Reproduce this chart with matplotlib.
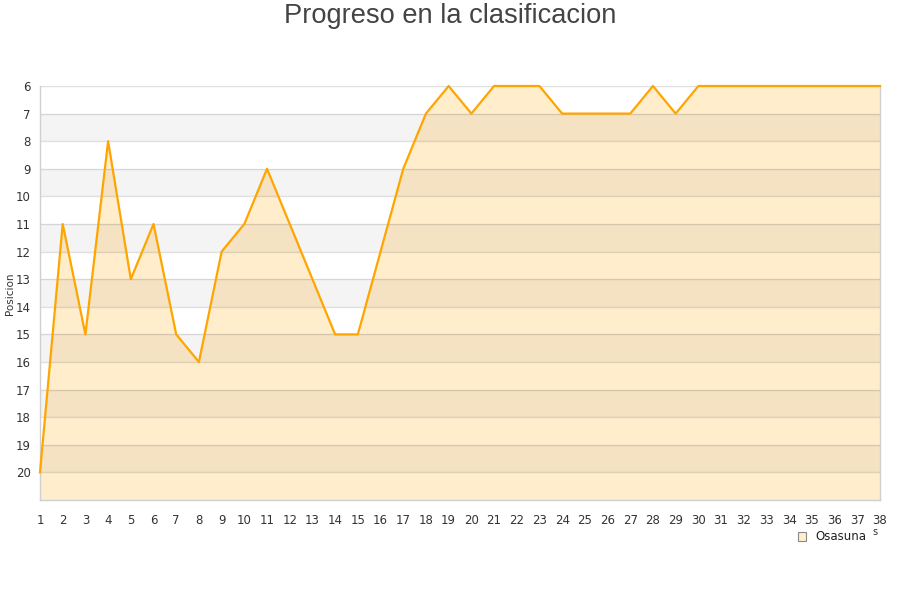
import matplotlib
matplotlib.use("Agg")
import matplotlib.pyplot as plt
from matplotlib.patches import Patch

jornadas = list(range(1, 39))
posiciones = [20, 11, 15, 8, 13, 11, 15, 16, 12, 11, 9, 11, 13, 15, 15, 12, 9, 7, 6, 7,
              6, 6, 6, 7, 7, 7, 7, 6, 7, 6, 6, 6, 6, 6, 6, 6, 6, 6]
equipo = "Osasuna"
titulo = "Progreso en la clasificacion"
ylabel = "Posicion"
yticks = list(range(6, 21))

plt.rcParams['font.family'] = ['DejaVu Sans']
fig = plt.figure(figsize=(9, 6), dpi=100)
ax = fig.add_axes([40/900, 1-500/600, 840/900, 414/600])

ax.set_xlim(1, 38)
ax.set_ylim(21, 6)

# fill below the line
ax.fill_between(jornadas, posiciones, 21, color='#FFEDCC', zorder=1, linewidth=0)
# alternating stripes
for y0 in range(7, 20, 2):
    ax.axhspan(y0, y0 + 1, color='black', alpha=0.045, zorder=2, linewidth=0)
# grid lines
for y in range(6, 21):
    ax.axhline(y, color='#000000', alpha=0.12, linewidth=1, zorder=2.5)

ax.plot(jornadas, posiciones, color='#FFA500', linewidth=1.6, zorder=4, clip_on=False)

ax.set_xticks(jornadas)
ax.set_xticklabels([str(j) for j in jornadas])
ax.set_yticks(yticks)
ax.set_yticklabels([str(t) for t in yticks])
ax.tick_params(axis='both', length=0, labelsize=8.5, colors='#333333')
ax.tick_params(axis='x', pad=10)
ax.tick_params(axis='y', pad=6.5)

for side in ['left', 'bottom', 'right']:
    ax.spines[side].set_color('#D0D0D0')
    ax.spines[side].set_linewidth(1)
ax.spines['top'].set_visible(False)

fig.text(10/900, 1-294/600, ylabel, rotation=90, ha='center', va='center',
         fontsize=7.5, color='#333333')

fig.text(0.5, 1-16/600, titulo, ha='center', va='center', fontsize=19.6,
         color='#444444', family=['Liberation Sans', 'DejaVu Sans'])

handle = Patch(facecolor='#FFEDCC', edgecolor='#888888', linewidth=0.8)
leg = fig.legend([handle], [equipo], loc='center', bbox_to_anchor=(832/900, 1-537/600),
                 frameon=False, fontsize=8.5, handlelength=0.7, handleheight=0.7,
                 handletextpad=0.8)
for t in leg.get_texts():
    t.set_color('#222222')

fig.text(875/900, 1-532/600, "s", ha='center', va='center', fontsize=7, color='#333333')

fig.savefig("out.png", dpi=100)
